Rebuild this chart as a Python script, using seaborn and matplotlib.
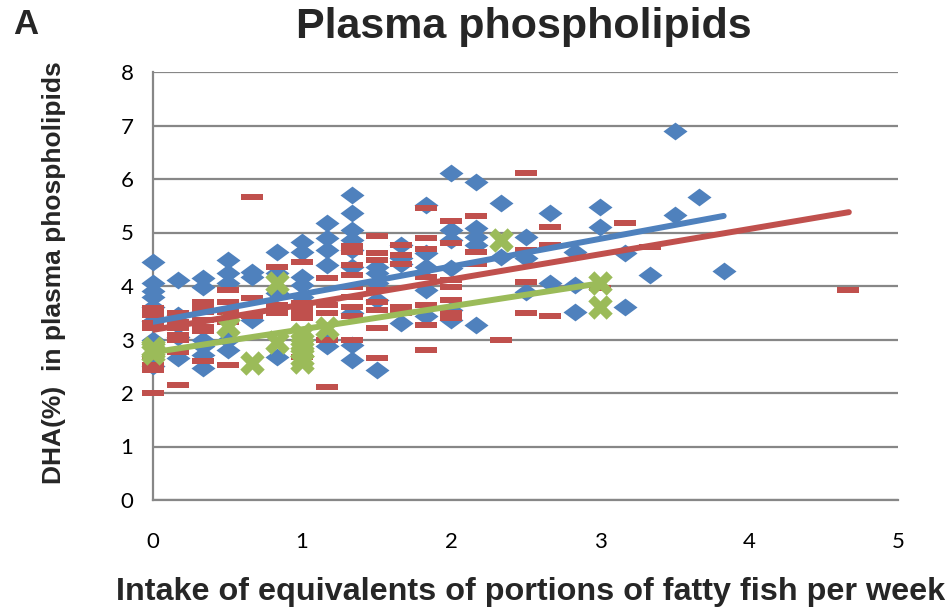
import numpy as np
import pandas as pd
import matplotlib
matplotlib.use("Agg")
import matplotlib.pyplot as plt
import seaborn as sns

# ---------------- data (x in portions/week, y = DHA %) ----------------
blue_x6 = ([0]*8 + [1]*4 + [2]*6 + [3]*5 + [4]*3 + [5]*4 + [6]*6 + [7]*6 + [8]*9 +
           [9]*5 + [10]*4 + [11]*5 + [12]*6 + [13]*5 + [14]*2 + [15]*3 + [16]*2 +
           [17]*3 + [18]*2 + [19]*2 + [20] + [21]*2 + [22] + [23])
blue_y = [4.45, 4.05, 3.9, 3.8, 3.6, 3.35, 3.0, 2.5,
          4.11, 3.46, 3.05, 2.65,
          4.15, 3.99, 2.99, 2.87, 2.71, 2.47,
          4.49, 4.24, 4.05, 2.99, 2.8,
          4.26, 4.17, 3.36,
          4.64, 4.24, 3.87, 2.68,
          4.83, 4.64, 4.17, 4.02, 3.80, 3.0,
          5.17, 4.89, 4.67, 4.39, 2.99, 2.87,
          5.70, 5.36, 5.05, 4.86, 4.67, 4.36, 3.49, 2.90, 2.62,
          4.36, 4.24, 4.05, 3.74, 2.43,
          4.77, 4.52, 4.42, 3.31,
          5.51, 4.61, 4.36, 3.93, 3.43,
          6.11, 5.05, 4.86, 4.33, 3.55, 3.36,
          5.95, 5.08, 4.92, 4.77, 3.27,
          5.55, 4.55,
          4.92, 4.52, 3.89,
          5.36, 4.05,
          4.64, 4.02, 3.52,
          5.48, 5.11,
          4.61, 3.61,
          4.21,
          6.90, 5.33,
          5.66,
          4.28]

red_x6 = ([0]*9 + [1]*7 + [2]*7 + [3]*5 + [4]*3 + [5]*3 + [6]*6 + [7]*5 + [8]*9 +
          [9]*8 + [10]*5 + [11]*7 + [12]*7 + [13]*3 + [14] + [15]*4 + [16]*3 +
          [18] + [19] + [20] + [28])
red_y = [3.59, 3.50, 3.46, 3.30, 3.21, 2.68, 2.52, 2.43, 2.0,
         3.49, 3.33, 3.21, 3.08, 2.99, 2.77, 2.15,
         3.71, 3.61, 3.52, 3.36, 3.24, 3.15, 2.59,
         3.93, 3.71, 3.52, 3.33, 2.52,
         5.66, 3.77, 3.43,
         4.36, 3.64, 3.49,
         4.45, 3.68, 3.59, 3.49, 3.40, 2.68,
         4.15, 3.64, 3.49, 2.99, 2.12,
         4.74, 4.64, 4.39, 4.21, 3.99, 3.80, 3.61, 3.43, 3.0,
         4.93, 4.61, 4.49, 3.93, 3.71, 3.55, 3.21, 2.65,
         4.77, 4.58, 4.42, 3.61, 3.49,
         5.45, 4.89, 4.69, 4.17, 3.64, 3.27, 2.80,
         5.22, 4.80, 4.11, 3.99, 3.74, 3.49, 3.40,
         5.30, 4.64, 4.42,
         2.99,
         6.11, 4.67, 4.08, 3.49,
         5.11, 4.77, 3.43,
         3.96,
         5.17,
         4.73,
         3.92]

green_x6 = [0, 0, 0, 3, 4, 5, 5, 6, 6, 6, 6, 6, 7, 14, 18, 18]
green_y = [2.85, 2.80, 2.75, 3.25, 2.56, 4.05, 2.96, 3.10, 2.95, 2.80, 2.68, 2.58,
           3.22, 4.86, 4.05, 3.61]

# linear trend lines (end points)
blue_trend_x = [0.0, 3.83]
blue_trend_y = [3.33, 5.31]
red_trend_x = [0.0, 4.67]
red_trend_y = [3.18, 5.38]
green_trend_x = [0.0, 3.0]
green_trend_y = [2.76, 4.05]

x_ticks = [0, 1, 2, 3, 4, 5]
y_ticks = [0, 1, 2, 3, 4, 5, 6, 7, 8]

title = "Plasma phospholipids"
panel = "A"
x_label = "Intake of equivalents of portions of fatty fish per week"
y_label = "DHA(%)  in plasma phospholipids"

# ---------------- style ----------------
sns.set_theme(style="white")
plt.rcParams["font.family"] = ["Liberation Sans", "DejaVu Sans"]

BLUE = "#4F81BD"
RED = "#C0504D"
GREEN = "#9BBB59"
GRID = "#878787"

diamond = [(-1, 0), (0, 0.74), (1, 0), (0, -0.74), (-1, 0)]
dash = [(-1, -0.28), (1, -0.28), (1, 0.28), (-1, 0.28), (-1, -0.28)]

fig = plt.figure(figsize=(9.49, 6.09), dpi=100)
ax = fig.add_axes([153/949, 1 - 500/609, (898 - 153)/949, (500 - 72)/609])

df_b = pd.DataFrame({"x": np.array(blue_x6) / 6.0, "y": blue_y})
df_r = pd.DataFrame({"x": np.array(red_x6) / 6.0, "y": red_y})
df_g = pd.DataFrame({"x": np.array(green_x6) / 6.0, "y": green_y})

sns.scatterplot(data=df_b, x="x", y="y", marker=diamond, s=300, color=BLUE,
                linewidth=0, ax=ax, zorder=3, clip_on=False)
sns.scatterplot(data=df_r, x="x", y="y", marker=dash, s=240, color=RED,
                linewidth=0, ax=ax, zorder=4, clip_on=False)
sns.scatterplot(data=df_g, x="x", y="y", marker="X", s=310, color=GREEN,
                linewidth=0, ax=ax, zorder=5, clip_on=False)

for tx, ty, c, z in [(blue_trend_x, blue_trend_y, BLUE, 6),
                     (red_trend_x, red_trend_y, RED, 7),
                     (green_trend_x, green_trend_y, GREEN, 8)]:
    sns.lineplot(x=tx, y=ty, color=c, lw=4.3, ax=ax, zorder=z,
                 solid_capstyle="round")

ax.set_xlim(0, 5)
ax.set_ylim(0, 8)
ax.set_xticks(x_ticks)
ax.set_yticks(y_ticks)
ax.yaxis.grid(True, color=GRID, lw=1.6)
ax.xaxis.grid(False)
ax.set_axisbelow(True)
for s in ["top", "right"]:
    ax.spines[s].set_visible(False)
for s in ["left", "bottom"]:
    ax.spines[s].set_color(GRID)
    ax.spines[s].set_linewidth(1.6)
ax.tick_params(axis="both", which="major", direction="out", length=5, width=1.4,
               color=GRID, labelsize=16, labelcolor="black")
ax.tick_params(axis="x", pad=18)
ax.tick_params(axis="y", pad=9)
for lab in ax.get_xticklabels() + ax.get_yticklabels():
    lab.set_family(["Lato", "DejaVu Sans"])

ax.set_xlabel("")
ax.set_ylabel("")
fig.text(531/949, 1 - 592/609, x_label, ha="center", va="center",
         fontsize=23.3, fontweight="bold")
fig.text(54/949, 1 - 273/609, y_label, ha="center", va="center",
         rotation=90, fontsize=19, fontweight="bold")
fig.text(524/949, 1 - 27/609, title, ha="center", va="center",
         fontsize=31, fontweight="bold")
fig.text(26/949, 1 - 24/609, panel, ha="center", va="center",
         fontsize=25, fontweight="bold")

fig.savefig("out.png", dpi=100)
